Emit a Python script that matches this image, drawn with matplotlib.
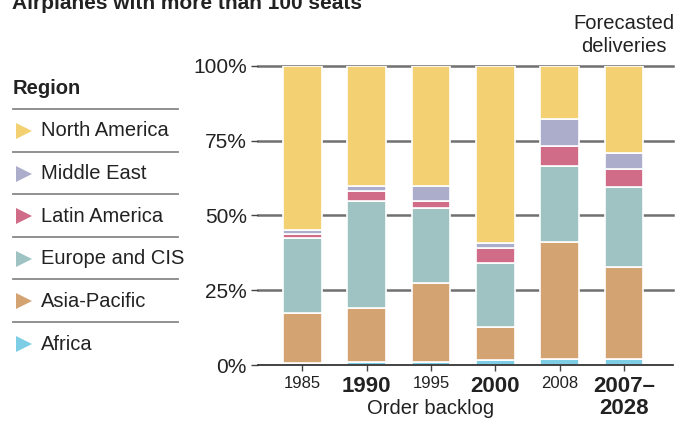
import numpy as np
import matplotlib
matplotlib.use("Agg")
import matplotlib.pyplot as plt
from matplotlib.lines import Line2D

plt.rcParams['font.family'] = ['Liberation Sans', 'DejaVu Sans']

# data (share of airplanes, %)
years = ["1985", "1990", "1995", "2000", "2008", "2007–\n2028"]
bold_years = [False, True, False, True, False, True]
regions = ["Africa", "Asia-Pacific", "Europe and CIS", "Latin America", "Middle East", "North America"]
africa = [0.8, 1.2, 1.2, 1.6, 1.9, 1.9]
asia_pacific = [16.7, 17.8, 26.1, 11.0, 39.2, 30.9]
europe_cis = [24.9, 36.0, 25.2, 21.6, 25.5, 26.7]
latin_america = [1.3, 3.1, 2.2, 4.8, 6.5, 6.1]
middle_east = [1.3, 1.9, 5.3, 1.8, 9.0, 5.3]
north_america = [55.0, 40.0, 40.0, 59.2, 17.9, 29.1]
colors = ["#7dcde5", "#d3a472", "#9fc3c2", "#d16c88", "#abadcb", "#f3d172"]

series = [africa, asia_pacific, europe_cis, latin_america, middle_east, north_america]

fig = plt.figure(figsize=(6.9, 4.42), dpi=100)
ax = fig.add_axes([0.374, 0.174, 0.601, 0.677])

x = np.arange(len(years))
bottom = np.zeros(len(years))
for vals, col in zip(series, colors):
    ax.bar(x, vals, bottom=bottom, width=0.6, color=col, edgecolor="white",
           linewidth=1.2, zorder=2)
    bottom += np.array(vals)

for yv in [25, 50, 75, 100]:
    ax.axhline(yv, color="#707070", lw=1.8, zorder=0, clip_on=False)

ax.set_xlim(-0.69, 5.76)
ax.set_ylim(0, 100)
for s in ["top", "right", "left"]:
    ax.spines[s].set_visible(False)
ax.spines["bottom"].set_color("#222222")
ax.spines["bottom"].set_linewidth(1.2)
ax.spines["bottom"].set_zorder(3)

ax.set_yticks([0, 25, 50, 75, 100])
ax.set_yticklabels(["0%", "25%", "50%", "75%", "100%"], fontsize=15, color="#222222")
ax.tick_params(axis="y", length=5, width=1, color="#444444", pad=3)
ax.set_xticks(x)
ax.set_xticklabels([])
ax.tick_params(axis="x", length=4, width=1, color="#444444")
for xi, lab, b in zip(x, years, bold_years):
    ax.text(xi, -3.6, lab, ha="center", va="top",
            fontsize=16 if b else 12, fontweight="bold" if b else "normal",
            color="#222222", linespacing=1.1)
ax.text(2, -11.4, "Order backlog", ha="center", va="top", fontsize=14.5, color="#222222")

fig.text(12 / 690, 1 - 9 / 442, "Airplanes with more than 100 seats", fontsize=15,
         fontweight="bold", va="baseline", ha="left", color="#222222")
fig.text(624 / 690, 1 - 35 / 442, "Forecasted\ndeliveries", ha="center", va="center",
         fontsize=14.5, color="#222222", linespacing=1.25)

# legend
fig.text(13 / 690, 1 - 89 / 442, "Region", fontsize=14.5, fontweight="bold",
         va="center", ha="left", color="#222222")
labels_top = regions[::-1]
cols_top = colors[::-1]
for i, (lab, col) in enumerate(zip(labels_top, cols_top)):
    ly = 1 - (109 + 42.6 * i) / 442
    fig.add_artist(Line2D([13 / 690, 178 / 690], [ly, ly], color="#888888", lw=1.3))
    ty = 1 - (131 + 42.6 * i) / 442
    fig.add_artist(Line2D([24 / 690], [ty], marker=">", markersize=11, color=col,
                          markeredgewidth=0, linestyle="none"))
    fig.text(41 / 690, ty, lab, fontsize=14.5, va="center", ha="left", color="#222222")

fig.savefig("out.png", dpi=100)
